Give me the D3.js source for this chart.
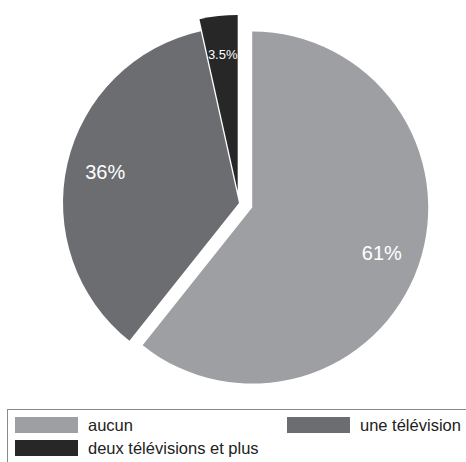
<!DOCTYPE html>
<html>
<head>
<meta charset="utf-8">
<script src="https://cdn.jsdelivr.net/npm/d3@7"></script>
<style>
  html, body { margin: 0; padding: 0; background: #fff; }
  svg { display: block; }
</style>
</head>
<body>
<svg id="chart" width="466" height="462"></svg>
<script>
// Households by number of televisions
const categories = ["aucun", "une télévision", "deux télévisions et plus"];
const values = [61, 36, 3.5];
const valueLabels = ["61%", "36%", "3.5%"];
const colors = ["#9e9fa3", "#6c6d71", "#272727"];
const explode = [14, 0, 12];

const svg = d3.select("#chart");
const cx = 239, cy = 203, radius = 176;

const pie = d3.pie().sort(null).value(d => d)(values);
const arc = d3.arc().innerRadius(0).outerRadius(radius);
const labelArc = d3.arc().innerRadius(radius * 0.78).outerRadius(radius * 0.78);

const g = svg.append("g").attr("transform", `translate(${cx},${cy})`);

const slices = g.selectAll("g.slice")
  .data(pie)
  .join("g")
  .attr("class", "slice")
  .attr("transform", (d, i) => {
    const mid = (d.startAngle + d.endAngle) / 2;
    return `translate(${Math.sin(mid) * explode[i]},${-Math.cos(mid) * explode[i]})`;
  });

slices.append("path")
  .attr("d", arc)
  .attr("fill", (d, i) => colors[i]);

slices.append("text")
  .attr("transform", d => `translate(${labelArc.centroid(d)})`)
  .attr("text-anchor", "middle")
  .attr("dominant-baseline", "central")
  .attr("fill", "#fff")
  .attr("font-family", "Liberation Sans, Arial, sans-serif")
  .attr("font-size", (d, i) => i === 2 ? 13 : 20)
  .text((d, i) => valueLabels[i]);

// Legend
const legend = svg.append("g");
legend.append("rect")
  .attr("x", 7.5).attr("y", 409.5)
  .attr("width", 480).attr("height", 70)
  .attr("fill", "none").attr("stroke", "#8a8a8a").attr("stroke-width", 1);

const legendPos = [
  { x: 15, y: 417 },
  { x: 287, y: 417 },
  { x: 15, y: 440 }
];

const items = legend.selectAll("g.item")
  .data(categories)
  .join("g")
  .attr("class", "item")
  .attr("transform", (d, i) => `translate(${legendPos[i].x},${legendPos[i].y})`);

items.append("rect")
  .attr("width", 63).attr("height", 16)
  .attr("fill", (d, i) => colors[i]);

items.append("text")
  .attr("x", 73).attr("y", 14)
  .attr("fill", "#222")
  .attr("font-family", "Liberation Sans, Arial, sans-serif")
  .attr("font-size", 16.5)
  .text(d => d);
</script>
</body>
</html>
